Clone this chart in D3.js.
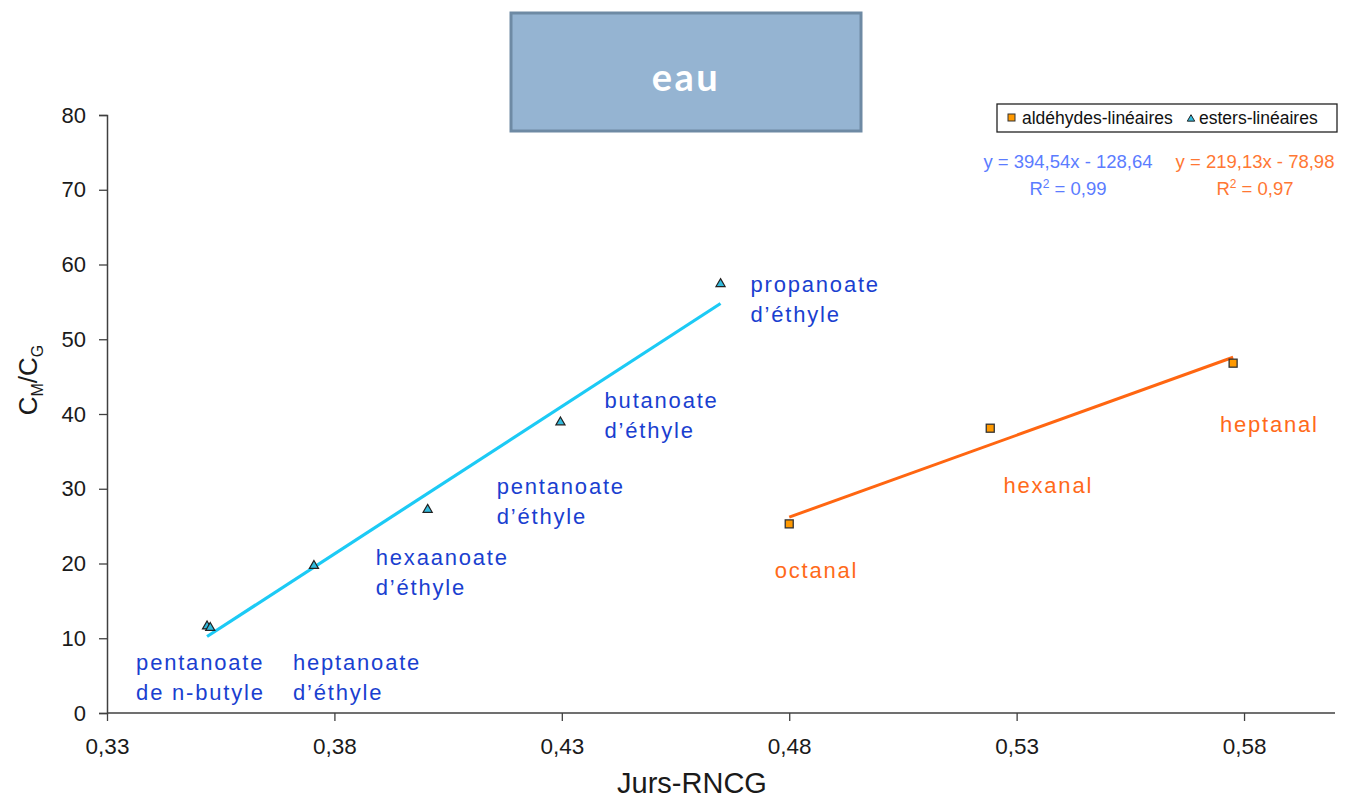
<!DOCTYPE html>
<html><head><meta charset="utf-8">
<script src="https://cdn.jsdelivr.net/npm/d3@7"></script>
<style>
body{margin:0;background:#fff;}
svg{display:block;font-family:"Liberation Sans",Arial,sans-serif;}
</style></head>
<body>
<svg id="chart" width="1351" height="800"></svg>
<script>
// ---- data ----
const esterX = [0.3520, 0.3527, 0.3755, 0.4005, 0.4297, 0.4649];
const esterY = [11.6, 11.4, 19.7, 27.2, 38.9, 57.4];
const aldX = [0.4800, 0.5242, 0.5776];
const aldY = [25.3, 38.1, 46.8];
const esterFit = {slope: 394.54, intercept: -128.64};
const aldFit = {slope: 219.13, intercept: -78.98};
const xTicks = [0.33, 0.38, 0.43, 0.48, 0.53, 0.58];
const yTicks = [0, 10, 20, 30, 40, 50, 60, 70, 80];
const esterLabels = [
  {lines:["pentanoate","de n-butyle"], x:0.3364, y:6.8},
  {lines:["heptanoate","d\u2019éthyle"], x:0.3709, y:6.8},
  {lines:["hexaanoate","d\u2019éthyle"], x:0.3891, y:20.9},
  {lines:["pentanoate","d\u2019éthyle"], x:0.4157, y:30.4},
  {lines:["butanoate","d\u2019éthyle"], x:0.4394, y:41.9},
  {lines:["propanoate","d\u2019éthyle"], x:0.4715, y:57.4}
];
const aldLabels = [
  {lines:["octanal"], x:0.4768, y:19.1},
  {lines:["hexanal"], x:0.5271, y:30.5},
  {lines:["heptanal"], x:0.5747, y:38.7}
];
const legendNames = ["aldéhydes-linéaires", "esters-linéaires"];
const titleText = "eau";

// ---- layout ----
const svg = d3.select("#chart");
const mLeft = 107, mRight = 1335, mTop = 115, mBottom = 713;
const x = d3.scaleLinear().domain([0.33, 0.60]).range([mLeft, mRight]);
const y = d3.scaleLinear().domain([0, 80]).range([mBottom, mTop]);
const fmt = d => d3.format(".2f")(d).replace(".", ",");

const axisCol = "#404040";
// y axis
const ya = svg.append("g").attr("transform", `translate(${mLeft},0)`)
  .call(d3.axisLeft(y).tickValues(yTicks).tickSize(8).tickPadding(13).tickFormat(d => d));
ya.select(".domain").attr("stroke", axisCol).attr("stroke-width", 1.5);
ya.selectAll(".tick line").attr("stroke", axisCol).attr("stroke-width", 1.3);
ya.selectAll("text").attr("font-size", 22).attr("fill", "#1a1a1a").attr("font-family", "Liberation Sans, Arial");

// x axis
const xa = svg.append("g").attr("transform", `translate(0,${mBottom})`)
  .call(d3.axisBottom(x).tickValues(xTicks).tickSize(8).tickPadding(17).tickFormat(fmt));
xa.select(".domain").attr("stroke", axisCol).attr("stroke-width", 1.5).attr("d", `M${mLeft},0H${mRight}`);
xa.selectAll(".tick line").attr("stroke", axisCol).attr("stroke-width", 1.3);
xa.selectAll("text").attr("font-size", 22.5).attr("fill", "#1a1a1a");

// axis titles
svg.append("text").attr("x", 692).attr("y", 793).attr("text-anchor", "middle")
  .attr("font-size", 29).attr("fill", "#1a1a1a").text("Jurs-RNCG");
const yt = svg.append("text").attr("transform", "translate(37,380) rotate(-90)")
  .attr("text-anchor", "middle").attr("font-size", 26).attr("fill", "#1a1a1a");
yt.append("tspan").text("C");
yt.append("tspan").attr("font-size", 16).attr("dy", 6).text("M");
yt.append("tspan").attr("dy", -6).text("/C");
yt.append("tspan").attr("font-size", 16).attr("dy", 6).text("G");

// trend lines
const esterExt = d3.extent(esterX), aldExt = d3.extent(aldX);
svg.append("line")
  .attr("x1", x(esterExt[0])).attr("y1", y(esterFit.slope*esterExt[0] + esterFit.intercept))
  .attr("x2", x(esterExt[1])).attr("y2", y(esterFit.slope*esterExt[1] + esterFit.intercept))
  .attr("stroke", "#1ccaf5").attr("stroke-width", 3.2);
svg.append("line")
  .attr("x1", x(aldExt[0])).attr("y1", y(aldFit.slope*aldExt[0] + aldFit.intercept))
  .attr("x2", x(aldExt[1])).attr("y2", y(aldFit.slope*aldExt[1] + aldFit.intercept))
  .attr("stroke", "#ff6611").attr("stroke-width", 3);

// markers
const tri = d3.symbol().type(d3.symbolTriangle).size(36);
svg.append("g").selectAll("path").data(esterX).join("path")
  .attr("d", tri).attr("transform", (d, i) => `translate(${x(d)},${y(esterY[i])})`)
  .attr("fill", "#33bbdd").attr("stroke", "#222").attr("stroke-width", 1.2);
svg.append("g").selectAll("rect").data(aldX).join("rect")
  .attr("x", d => x(d) - 4).attr("y", (d, i) => y(aldY[i]) - 4)
  .attr("width", 8).attr("height", 8)
  .attr("fill", "#ff9900").attr("stroke", "#333").attr("stroke-width", 1.3);

// point labels
function drawLabels(arr, col) {
  arr.forEach(l => {
    const t = svg.append("text").attr("font-size", 22).attr("fill", col)
      .attr("letter-spacing", 1.8).attr("font-family", "Liberation Sans, Arial");
    l.lines.forEach((s, i) => {
      t.append("tspan").attr("x", x(l.x)).attr("y", y(l.y) + 8 + i*30).text(s);
    });
  });
}
drawLabels(esterLabels, "#1a3fd0");
drawLabels(aldLabels, "#ff6a1a");

// title box
svg.append("rect").attr("x", 511).attr("y", 13).attr("width", 350).attr("height", 118)
  .attr("fill", "#95b4d2").attr("stroke", "#6e8aa4").attr("stroke-width", 3);
svg.append("text").attr("x", 686).attr("y", 91).attr("text-anchor", "middle")
  .attr("font-size", 38).attr("font-weight", "bold").attr("fill", "#fff").attr("letter-spacing", 2.5)
  .attr("font-family", "Lato, Open Sans, sans-serif").text(titleText);

// legend
svg.append("rect").attr("x", 997).attr("y", 104).attr("width", 340).attr("height", 28)
  .attr("fill", "#fff").attr("stroke", "#222").attr("stroke-width", 1.3);
svg.append("rect").attr("x", 1008).attr("y", 114).attr("width", 7).attr("height", 7)
  .attr("fill", "#ff9900").attr("stroke", "#333").attr("stroke-width", 1);
svg.append("text").attr("x", 1022).attr("y", 124).attr("font-size", 17.5).attr("fill", "#111").text(legendNames[0]);
svg.append("path").attr("d", d3.symbol().type(d3.symbolTriangle).size(24))
  .attr("transform", "translate(1191,119)").attr("fill", "#33bbdd").attr("stroke", "#222").attr("stroke-width", 1);
svg.append("text").attr("x", 1199).attr("y", 124).attr("font-size", 17.5).attr("fill", "#111").text(legendNames[1]);

// equations
const eqFmt = v => d3.format(".2f")(Math.abs(v)).replace(".", ",");
function eq(cx, fit, r2, col) {
  svg.append("text").attr("x", cx).attr("y", 168).attr("text-anchor", "middle")
    .attr("font-size", 18.5).attr("fill", col)
    .text(`y = ${eqFmt(fit.slope)}x - ${eqFmt(fit.intercept)}`);
  const t = svg.append("text").attr("x", cx).attr("y", 195).attr("text-anchor", "middle")
    .attr("font-size", 18.5).attr("fill", col);
  t.append("tspan").text("R");
  t.append("tspan").attr("font-size", 12).attr("dy", -7).text("2");
  t.append("tspan").attr("dy", 7).text(` = ${r2}`);
}
eq(1068, esterFit, "0,99", "#5b7cff");
eq(1255, aldFit, "0,97", "#ff7733");
</script>
</body></html>
